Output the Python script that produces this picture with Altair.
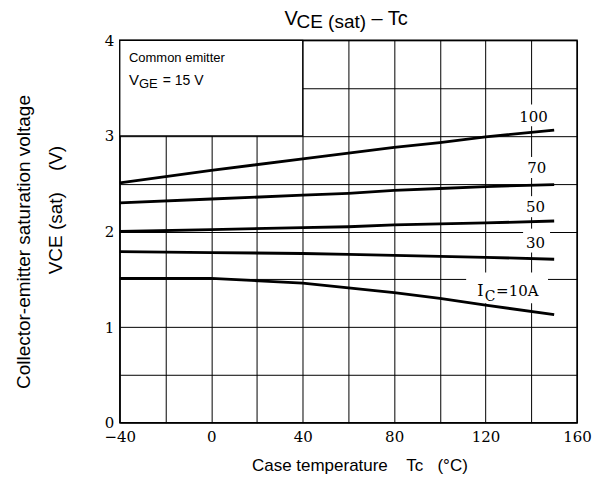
import altair as alt
import pandas as pd

# ---- data ----
temps = [-40, 0, 40, 60, 80, 100, 120, 150]
ic100 = [2.51, 2.64, 2.76, 2.82, 2.88, 2.93, 2.99, 3.06]
ic70 = [2.30, 2.34, 2.38, 2.40, 2.43, 2.45, 2.47, 2.49]
ic50 = [2.00, 2.02, 2.04, 2.05, 2.07, 2.08, 2.09, 2.11]
ic30 = [1.79, 1.78, 1.77, 1.76, 1.75, 1.74, 1.73, 1.71]
ic10 = [1.51, 1.51, 1.46, 1.41, 1.36, 1.30, 1.23, 1.13]

series = {"100": ic100, "70": ic70, "50": ic50, "30": ic30, "10": ic10}

# curve labels (left edge in °C, baseline in V)
label_text = ["100", "70", "50", "30", "I", "C", "=10A"]
label_x = [134.7, 138.2, 137.7, 137.7, 116.3, 119.6, 124.6]
label_y = [3.15, 2.61, 2.20, 1.83, 1.33, 1.27, 1.33]
label_size = [15, 15, 15, 15, 16, 14, 15]

# white backing behind curve labels (grid is interrupted there)
back_x1 = [133.4, 136.9, 136.4, 136.4, 111.5]
back_x2 = [147.8, 148.2, 148.2, 148.2, 147.3]
back_y1 = [3.10, 2.56, 2.15, 1.78, 1.25]
back_y2 = [3.33, 2.78, 2.37, 2.03, 1.57]

x_ticks = list(range(-40, 161, 20))
y_ticks = [i * 0.5 for i in range(9)]

rows = []
for k, vals in series.items():
    for t, v in zip(temps, vals):
        rows.append({"Tc": t, "V": v, "IC": k})
df = pd.DataFrame(rows)

lab = pd.DataFrame({"text": label_text, "x": label_x, "y": label_y, "size": label_size})
backs_df = pd.DataFrame({"x1": back_x1, "x2": back_x2, "y1": back_y1, "y2": back_y2})

xs = alt.Scale(domain=[-40, 160], nice=False, zero=False)
ys = alt.Scale(domain=[0, 4], nice=False, zero=False)

xaxis = alt.Axis(values=x_ticks, grid=True, ticks=False, domain=False,
                 labelExpr="datum.value % 40 == 0 ? format(datum.value, 'd') : ''",
                 labelFont="DejaVu Serif", labelFontSize=15, labelColor="black",
                 labelPadding=7, labelFlush=False,
                 title="Case temperature\u00a0\u00a0\u00a0 Tc \u00a0\u00a0(°C)",
                 titleFont="Liberation Sans", titleFontSize=17, titleFontWeight="normal",
                 titleColor="black", titleBaseline="middle", titleX=240, titleY=43)
yaxis = alt.Axis(values=y_ticks, grid=True, ticks=False, domain=False,
                 labelExpr="datum.value % 1 == 0 ? format(datum.value, 'd') : ''",
                 labelFont="DejaVu Serif", labelFontSize=15, labelColor="black",
                 labelPadding=6, title=None)

grid = alt.Chart(pd.DataFrame({"Tc": [-40], "V": [0]})).mark_point(opacity=0).encode(
    x=alt.X("Tc:Q", scale=xs, axis=xaxis),
    y=alt.Y("V:Q", scale=ys, axis=yaxis),
)

box = alt.Chart(pd.DataFrame({"a": [-40], "b": [40], "c": [3], "d": [4]})).mark_rect(
    fill="white", stroke="black", strokeWidth=1.2
).encode(x=alt.X("a:Q", scale=xs), x2="b:Q", y=alt.Y("c:Q", scale=ys), y2="d:Q")

backs = alt.Chart(backs_df).mark_rect(fill="white").encode(
    x=alt.X("x1:Q", scale=xs), x2="x2:Q", y=alt.Y("y1:Q", scale=ys), y2="y2:Q")

lines = alt.Chart(df).mark_line(color="black", strokeWidth=2.8).encode(
    x=alt.X("Tc:Q", scale=xs), y=alt.Y("V:Q", scale=ys), detail="IC:N")

labels = alt.Chart(lab).mark_text(font="DejaVu Serif", color="black", align="left",
                                  baseline="alphabetic").encode(
    x=alt.X("x:Q", scale=xs), y=alt.Y("y:Q", scale=ys), text="text:N",
    size=alt.Size("size:Q", scale=None, legend=None))

ann = pd.DataFrame({
    "text": ["Common emitter", "V", "GE", "= 15 V"],
    "x": [-36, -36, -31.6, -21.2],
    "y": [3.77, 3.53, 3.50, 3.53],
    "size": [13, 15, 13, 14],
})
annot = alt.Chart(ann).mark_text(font="Liberation Sans", color="black", align="left",
                                 baseline="alphabetic").encode(
    x=alt.X("x:Q", scale=xs), y=alt.Y("y:Q", scale=ys), text="text:N",
    size=alt.Size("size:Q", scale=None, legend=None))

# chart title with subscript (pixel positions relative to plot area)
title_df = pd.DataFrame({"text": ["V", "CE (sat)", "\u2013 Tc"],
                         "px": [165, 177, 252], "py": [-15, -12, -15],
                         "size": [20, 19, 20]})
ttl = alt.Chart(title_df).mark_text(font="Liberation Sans", color="black", align="left",
                                    baseline="alphabetic").encode(
    x=alt.X("px:Q", scale=None), y=alt.Y("py:Q", scale=None), text="text:N",
    size=alt.Size("size:Q", scale=None, legend=None))

# y axis title as two rotated lines
ytitle_df = pd.DataFrame({"text": ["Collector-emitter saturation voltage",
                                   "VCE (sat)\u00a0\u00a0\u00a0 (V)"],
                          "px": [-96, -64], "py": [202, 170]})
ytitle = alt.Chart(ytitle_df).mark_text(font="Liberation Sans", fontSize=19, color="black",
                                        angle=270, align="center", baseline="middle").encode(
    x=alt.X("px:Q", scale=None), y=alt.Y("py:Q", scale=None), text="text:N")

chart = alt.layer(grid, box, backs, lines, labels, annot, ttl, ytitle).properties(
    width=458, height=383,
    autosize=alt.AutoSizeParams(type="none"),
    padding={"left": 112, "top": 32, "right": 18, "bottom": 52},
).configure_view(stroke="black", strokeWidth=1.5).configure_axis(
    gridColor="black", gridWidth=1, gridOpacity=1)

chart.save("out.html", embed_options={"renderer": "svg", "actions": False})
